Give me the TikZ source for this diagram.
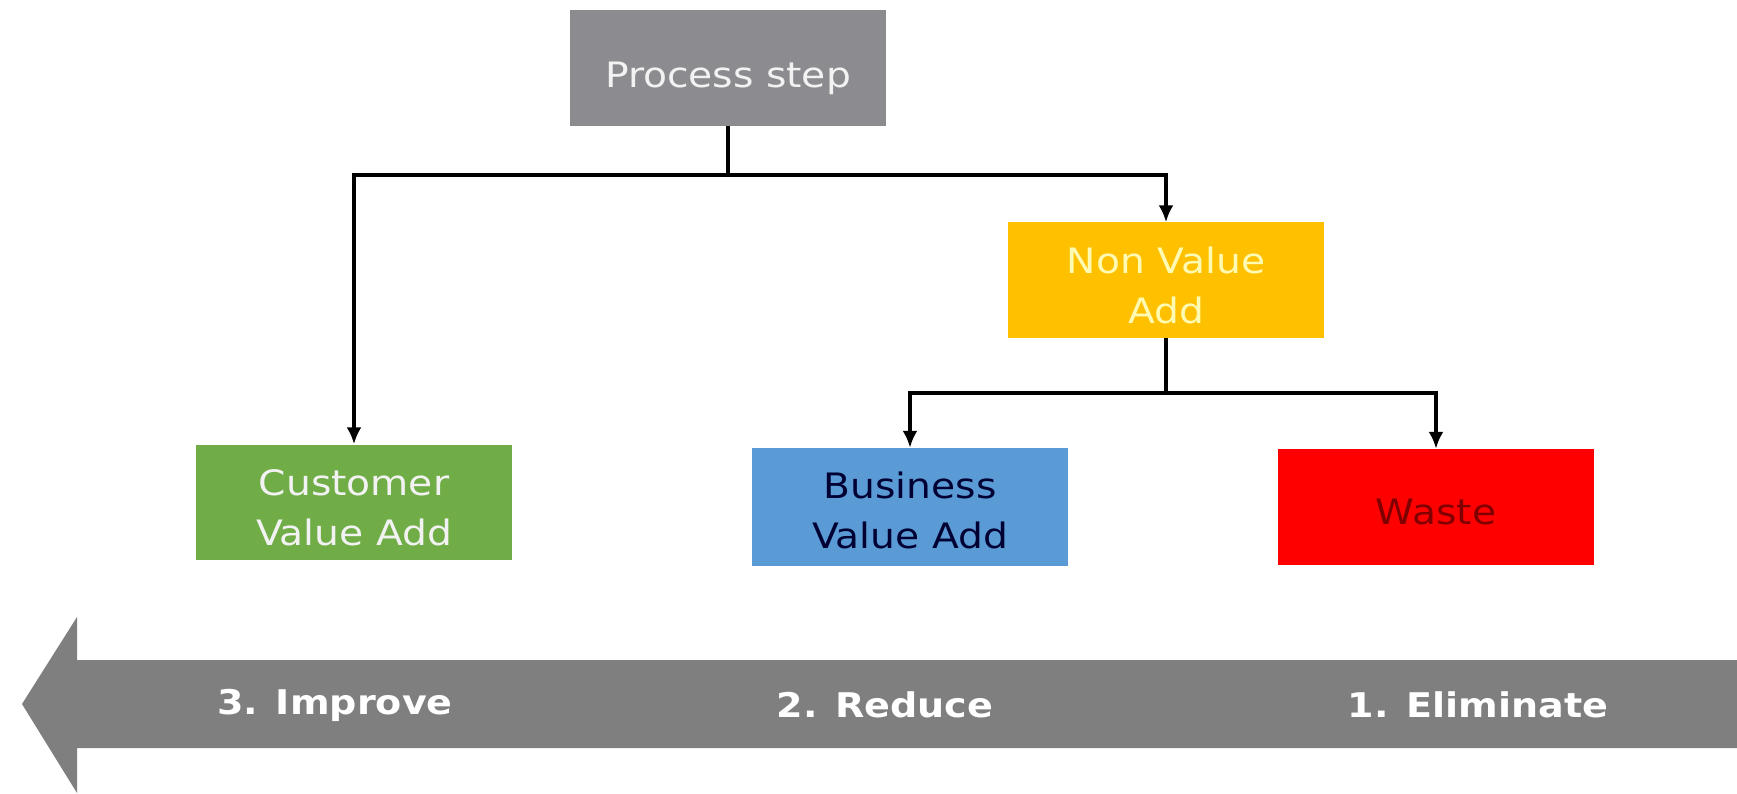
\documentclass[tikz,border=0pt]{standalone}
\usepackage{fontspec}
\setmainfont[FakeStretch=1.12]{DejaVu Sans}
\usetikzlibrary{arrows.meta}
\definecolor{psgrey}{HTML}{8C8B8F}
\definecolor{nvagold}{HTML}{FFC000}
\definecolor{cvagreen}{HTML}{70AD47}
\definecolor{bvablue}{HTML}{5B9BD5}
\definecolor{wastered}{HTML}{FF0000}
\definecolor{bigarrow}{HTML}{7F7F7F}
\tikzset{
  box/.style={rectangle, minimum width=316pt, minimum height=116pt, inner sep=0pt},
  boxtext/.style={inner sep=0pt, align=center, font=\fontsize{35}{50}\selectfont},
  conn/.style={line width=4pt, -{Latex[length=17pt,width=15pt]}},
  band/.style={text=white, font=\bfseries\fontsize{34}{40}\selectfont},
}
\begin{document}
\begin{tikzpicture}[x=1pt,y=-1pt]
\useasboundingbox (0,0) rectangle (1737,794);
\node[box, fill=psgrey] (ps) at (728,68) {};
\node[box, fill=nvagold, minimum height=115pt] (nva) at (1166,280) {};
\node[box, fill=cvagreen, minimum height=115pt] (cva) at (354,502) {};
\node[box, fill=bvablue, minimum height=118pt] (bva) at (910,507) {};
\node[box, fill=wastered] (waste) at (1436,507) {};
\node[boxtext, text=white!95!black] (pst) at ([yshift=-10pt]ps.center) {Process step};
\node[boxtext, text=yellow!30!white] (nvat) at ([yshift=-5pt]nva.center) {Non Value\\Add};
\node[boxtext, text=white!95!black] (cvat) at ([yshift=-6pt]cva.center) {Customer\\Value Add};
\node[boxtext, text={black!80!blue}] (bvat) at ([yshift=-3pt]bva.center) {Business\\Value Add};
\node[boxtext, text={black!50!red}] (wastet) at ([yshift=-5pt]waste.center) {Waste};
\coordinate (j1) at (728,175);
\coordinate (j2) at (1166,393);
\draw[line width=4pt] (ps.south) -- (j1);
\draw[conn] (j1) -| (cva.north);
\draw[conn] (j1) -| (nva.north);
\draw[line width=4pt] (nva.south) -- (j2);
\draw[conn] (j2) -| (bva.north);
\draw[conn] (j2) -| (waste.north);
\fill[bigarrow] (1737,660) -- (77,660) -- (77,617) -- (22,704) -- (77,793) -- (77,748) -- (1737,748) -- cycle;
\node[band] (improve) at (335,705) {3. Improve};
\node[band] (reduce) at (885,705) {2. Reduce};
\node[band] (elim) at (1478,705) {1. Eliminate};
\end{tikzpicture}
\end{document}
